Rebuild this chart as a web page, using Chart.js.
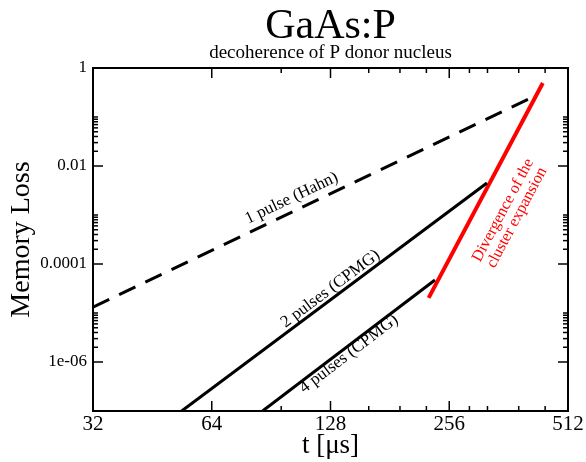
<!DOCTYPE html>
<html>
<head>
<meta charset="utf-8">
<script src="https://cdn.jsdelivr.net/npm/chart.js@4"></script>
<style>
  html, body { margin: 0; padding: 0; background: #fff; }
</style>
</head>
<body>
<canvas id="decoherence" width="586" height="462"></canvas>
<script>
  const SERIF = "'Liberation Serif', 'Times New Roman', serif";

  // Axis ticks
  const xTicks = [32, 64, 128, 256, 512];
  const xMinorTicks = [96, 160, 192, 224, 288, 320, 384, 448];
  const yTicks = [1e-6, 1e-4, 1e-2, 1];
  const yTickLabels = ["1e-06", "0.0001", "0.01", "1"];
  const yMinorBase = [1e-6, 1e-4, 1e-2];
  const yMinorSteps = [2, 3, 4, 5, 6, 7, 8, 9, 10];

  // Curve end points (t in µs, memory loss)
  const hahnT = [32, 417];
  const hahnLoss = [1.32e-5, 0.256];
  const cpmg2T = [53.7, 319];
  const cpmg2Loss = [1e-7, 0.0045];
  const cpmg4T = [86.1, 235.5];
  const cpmg4Loss = [1e-7, 4.7e-5];
  const divergenceT = [227, 442];
  const divergenceLoss = [2.03e-5, 0.494];

  const toPoints = (ts, vs) => ts.map((t, i) => ({ x: t, y: vs[i] }));

  // Text on the curves, anchored in data space, rotated along dataset `line`
  const curveLabels = [
    { text: ["1 pulse (Hahn)"], t: 102, loss: 2.2e-3, line: 0, color: "#000" },
    { text: ["2 pulses (CPMG)"], t: 128, loss: 3.1e-5, line: 1, color: "#000" },
    { text: ["4 pulses (CPMG)"], t: 142.6, loss: 1.46e-6, line: 2, color: "#000" },
    { text: ["Divergence of the", "cluster expansion"], t: 365, loss: 1.05e-3, line: 3, color: "#ff0000" },
  ];

  // Box + inward ticks on all four sides
  const framePlugin = {
    id: "frame",
    afterDatasetsDraw(chart) {
      const { ctx, chartArea: a, scales } = chart;
      const x = scales.x;
      const y = scales.y;
      const seg = (x1, y1, x2, y2) => {
        ctx.beginPath();
        ctx.moveTo(x1, y1);
        ctx.lineTo(x2, y2);
        ctx.stroke();
      };
      const xTick = (v, len) => {
        const px = x.getPixelForValue(v);
        seg(px, a.bottom, px, a.bottom - len);
        seg(px, a.top, px, a.top + len);
      };
      const yTick = (v, len) => {
        const py = y.getPixelForValue(v);
        seg(a.left, py, a.left + len, py);
        seg(a.right, py, a.right - len, py);
      };
      ctx.save();
      ctx.strokeStyle = "#000";
      ctx.lineWidth = 1.5;
      xTicks.forEach((v) => xTick(v, 10));
      xMinorTicks.forEach((v) => xTick(v, 5));
      yTicks.forEach((v) => yTick(v, 10));
      yMinorBase.forEach((b) => yMinorSteps.forEach((k) => yTick(b * k, 5)));
      ctx.lineWidth = 2;
      ctx.strokeRect(a.left, a.top, a.right - a.left, a.bottom - a.top);
      ctx.restore();
    },
  };

  // Titles and curve labels
  const textPlugin = {
    id: "texts",
    afterDraw(chart) {
      const { ctx, chartArea: a, scales } = chart;
      const cx = (a.left + a.right) / 2;
      ctx.save();
      ctx.fillStyle = "#000";
      ctx.textAlign = "center";
      ctx.textBaseline = "alphabetic";
      ctx.font = "42px " + SERIF;
      ctx.fillText("GaAs:P", cx, 38);
      ctx.font = "19px " + SERIF;
      ctx.fillText("decoherence of P donor nucleus", cx, 58);

      ctx.textBaseline = "middle";
      curveLabels.forEach((lab) => {
        const pts = chart.data.datasets[lab.line].data;
        const x0 = scales.x.getPixelForValue(pts[0].x);
        const y0 = scales.y.getPixelForValue(pts[0].y);
        const x1 = scales.x.getPixelForValue(pts[1].x);
        const y1 = scales.y.getPixelForValue(pts[1].y);
        const angle = Math.atan2(y1 - y0, x1 - x0);
        const px = scales.x.getPixelForValue(lab.t);
        const py = scales.y.getPixelForValue(lab.loss);
        const size = lab.text.length > 1 ? 16 : 17;
        const lh = 15.5;
        ctx.save();
        ctx.translate(px, py);
        ctx.rotate(angle);
        ctx.fillStyle = lab.color;
        ctx.font = size + "px " + SERIF;
        lab.text.forEach((line, i) => {
          ctx.fillText(line, 0, (i - (lab.text.length - 1) / 2) * lh);
        });
        ctx.restore();
      });
      ctx.restore();
    },
  };

  new Chart(document.getElementById("decoherence"), {
    type: "scatter",
    plugins: [framePlugin, textPlugin],
    options: {
      responsive: false,
      animation: false,
      devicePixelRatio: 1,
      layout: {
        padding: { left: 0, right: 18, top: 68, bottom: 0 },
      },
      plugins: {
        legend: { display: false },
        tooltip: { enabled: false },
      },
      elements: {
        point: { radius: 0 },
        line: { tension: 0 },
      },
      scales: {
        x: {
          type: "logarithmic",
          min: 32,
          max: 512,
          afterBuildTicks: (scale) => {
            scale.ticks = xTicks.map((v) => ({ value: v }));
          },
          afterFit: (scale) => {
            scale.height = 51;
          },
          grid: { display: false, drawTicks: false },
          border: { display: false },
          ticks: {
            padding: 1,
            color: "#000",
            font: { family: SERIF, size: 21 },
            callback: (value) => String(value),
          },
          title: {
            display: true,
            text: "t [μs]",
            color: "#000",
            font: { family: SERIF, size: 27 },
            padding: { top: 0, bottom: 0 },
          },
        },
        y: {
          type: "logarithmic",
          min: 1e-7,
          max: 1,
          afterBuildTicks: (scale) => {
            scale.ticks = yTicks.map((v) => ({ value: v }));
          },
          afterFit: (scale) => {
            scale.width = 93;
          },
          grid: { display: false, drawTicks: false },
          border: { display: false },
          ticks: {
            padding: 6,
            color: "#000",
            font: { family: SERIF, size: 17 },
            callback: (value) => yTickLabels[yTicks.indexOf(value)],
          },
          title: {
            display: true,
            text: "Memory Loss",
            color: "#000",
            font: { family: SERIF, size: 28 },
            padding: { top: 5, bottom: 0 },
          },
        },
      },
    },
    data: {
      datasets: [
        {
          data: toPoints(hahnT, hahnLoss),
          showLine: true,
          borderColor: "#000",
          borderWidth: 3,
          borderDash: [18, 11],
        },
        {
          data: toPoints(cpmg2T, cpmg2Loss),
          showLine: true,
          borderColor: "#000",
          borderWidth: 3,
        },
        {
          data: toPoints(cpmg4T, cpmg4Loss),
          showLine: true,
          borderColor: "#000",
          borderWidth: 3,
        },
        {
          data: toPoints(divergenceT, divergenceLoss),
          showLine: true,
          borderColor: "#ff0000",
          borderWidth: 4,
        },
      ],
    },
  });
</script>
</body>
</html>
